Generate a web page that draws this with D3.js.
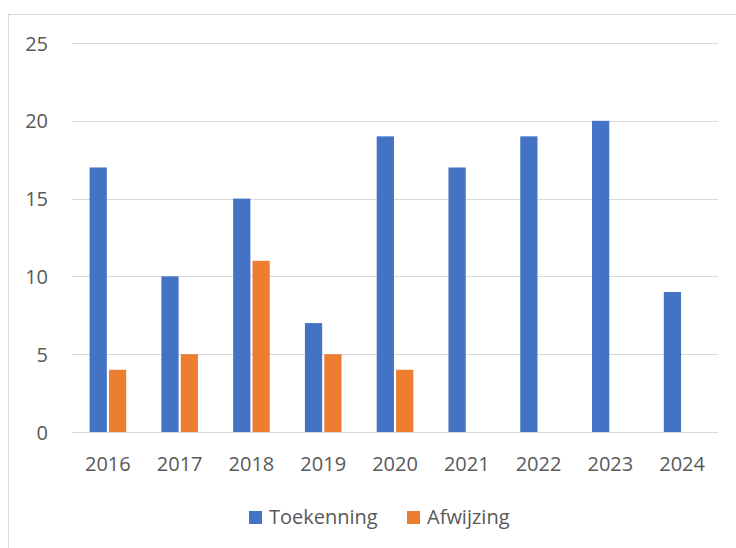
<!DOCTYPE html>
<html>
<head>
<meta charset="utf-8">
<script src="https://cdn.jsdelivr.net/npm/d3@7"></script>
<style>
html,body{margin:0;padding:0;background:#fff;}
svg{display:block;}
text{font-family:"Open Sans",sans-serif;fill:#595959;}
</style>
</head>
<body>
<svg id="chart" width="736" height="548"></svg>
<script>
const years = ["2016","2017","2018","2019","2020","2021","2022","2023","2024"];
const seriesNames = ["Toekenning","Afwijzing"];
const toekenning = [17,10,15,7,19,17,19,20,9];
const afwijzing = [4,5,11,5,4,0,0,0,0];
const yTicks = [0,5,10,15,20,25];
const colors = ["#4472C4","#ED7D31"];

(function(){
const svg = d3.select("#chart");
// chart border
svg.append("rect").attr("x",8.5).attr("y",14.5).attr("width",800).attr("height",600)
  .attr("fill","none").attr("stroke","#d9d9d9").attr("stroke-width",1);

const pLeft = 72, pRight = 718, pTop = 43, pBottom = 432;
const x0 = d3.scaleBand().domain(years).range([pLeft,pRight]).padding(0);
const groupW = 36.6;
const x1 = d3.scaleBand().domain(seriesNames).range([0,groupW]).paddingInner(0.11);
const y = d3.scaleLinear().domain([0,25]).range([pBottom,pTop]);

// gridlines
svg.append("g").selectAll("line").data(yTicks).join("line")
  .attr("x1",pLeft).attr("x2",pRight)
  .attr("y1",d=>Math.round(y(d))+0.5).attr("y2",d=>Math.round(y(d))+0.5)
  .attr("stroke","#d9d9d9").attr("stroke-width",1);

// y labels
svg.append("g").selectAll("text").data(yTicks).join("text")
  .attr("x",48).attr("y",d=>y(d)).attr("text-anchor","end")
  .attr("dominant-baseline","central").attr("font-size",20).text(d=>d);

const data = years.map((yr,i)=>({year:yr, values:[toekenning[i],afwijzing[i]]}));
const groups = svg.append("g").selectAll("g").data(data).join("g")
  .attr("transform",d=>`translate(${x0(d.year)+(x0.bandwidth()-groupW)/2},0)`);
groups.selectAll("rect").data(d=>d.values.map((v,j)=>({name:seriesNames[j],v,j}))).join("rect")
  .attr("x",d=>x1(d.name)).attr("width",x1.bandwidth())
  .attr("y",d=>y(d.v)).attr("height",d=>y(0)-y(d.v))
  .attr("fill",d=>colors[d.j]);

// x labels
svg.append("g").selectAll("text").data(years).join("text")
  .attr("x",d=>x0(d)+x0.bandwidth()/2).attr("y",471).attr("text-anchor","middle")
  .attr("font-size",20).text(d=>d);

// legend
const legendItems = [{name:seriesNames[0],x:249,c:colors[0]},{name:seriesNames[1],x:407,c:colors[1]}];
const lg = svg.append("g").selectAll("g").data(legendItems).join("g");
lg.append("rect").attr("x",d=>d.x).attr("y",511).attr("width",13).attr("height",13).attr("fill",d=>d.c);
lg.append("text").attr("x",d=>d.x+20).attr("y",524).attr("font-size",20).text(d=>d.name);
})();
</script>
</body>
</html>
